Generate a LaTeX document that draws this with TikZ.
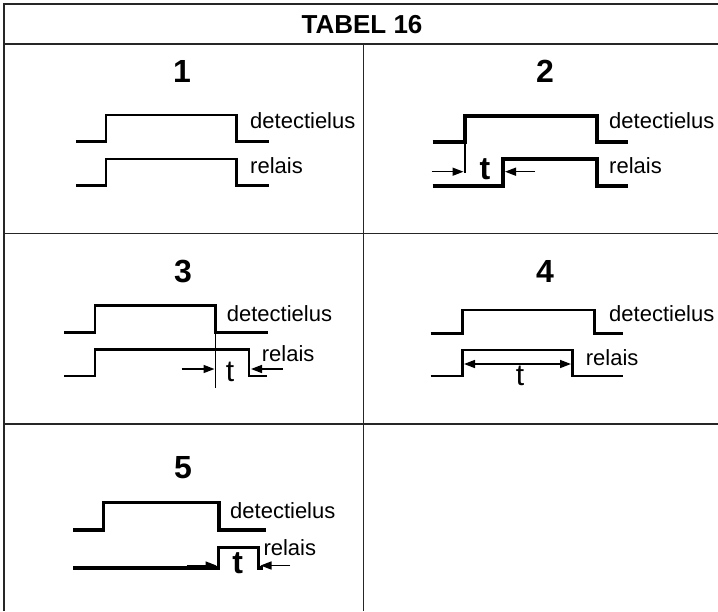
\documentclass[tikz,border=0pt]{standalone}
\usepackage{fontspec}
\setmainfont{Liberation Sans}
\usetikzlibrary{arrows.meta}
\begin{document}
\begin{tikzpicture}[x=1pt,y=-1pt,
  grid/.style={line width=1.4pt, draw=black!85},
  wave/.style={line width=2.8pt},
  heavywave/.style={line width=3.6pt},
  thinline/.style={line width=1.3pt},
  dimarrow/.style={line width=1.5pt, -{Triangle[length=11pt,width=8pt]}},
  dimboth/.style={line width=1.5pt, {Triangle[length=11pt,width=8pt]}-{Triangle[length=11pt,width=8pt]}},
  lbl/.style={font=\fontsize{22}{22}\selectfont, anchor=base west, inner sep=0pt},
  num/.style={font=\bfseries\fontsize{32}{32}\selectfont, anchor=base, inner sep=0pt},
  tbold/.style={font=\bfseries\fontsize{32}{32}\selectfont, anchor=base, inner sep=0pt},
  treg/.style={font=\fontsize{30}{30}\selectfont, anchor=base, inner sep=0pt},
]
\useasboundingbox (0,0) rectangle (718,611);
\fill[white] (0,0) rectangle (718,611);
% table grid
\draw[grid] (4,611) -- (4,4) -- (718,4);
\draw[grid] (4,44) -- (718,44);
\draw[grid] (4,233.5) -- (718,233.5);
\draw[grid] (4,424) -- (718,424);
\draw[grid] (363.5,44) -- (363.5,611);
\node[font=\bfseries\fontsize{26}{26}\selectfont, anchor=base, inner sep=0pt] (title) at (362,33) {TABEL 16};
% numbers
\node[num] (n1) at (182,82) {1};
\node[num] (n2) at (545,82) {2};
\node[num] (n3) at (183,282) {3};
\node[num] (n4) at (545,282) {4};
\node[num] (n5) at (183,478) {5};
% cell 1
\draw[wave] (76,141.7) -- (106,141.7) -- (106,115) -- (236.7,115) -- (236.7,141.7) -- (269,141.7);
\draw[wave] (76,185.7) -- (106,185.7) -- (106,159) -- (236.7,159) -- (236.7,185.7) -- (269,185.7);
\node[lbl] (d1) at (250,128.5) {detectielus};
\node[lbl] (r1) at (250,173.5) {relais};
% cell 2
\draw[heavywave] (432.7,141.7) -- (465,141.7) -- (465,116) -- (596.7,116) -- (596.7,141.7) -- (628,141.7);
\draw[thinline] (465,141.7) -- (465,173);
\draw[heavywave] (432.7,186) -- (502.7,186) -- (502.7,159) -- (596.7,159) -- (596.7,186) -- (628,186);
\coordinate (a2s) at (431.7,171.7); \coordinate (a2e) at (463.5,171.7);
\coordinate (b2s) at (535,171.7); \coordinate (b2e) at (505,171.7);
\draw[dimarrow] (a2s) -- (a2e);
\draw[dimarrow] (b2s) -- (b2e);
\node[tbold] (t2) at (485,179) {t};
\node[lbl] (d2) at (609,128.5) {detectielus};
\node[lbl] (r2) at (609,173.5) {relais};
% cell 3
\draw[wave] (64,332.3) -- (95,332.3) -- (95,305.7) -- (215.7,305.7) -- (215.7,332.3) -- (268.3,332.3);
\draw[thinline] (215.7,332.3) -- (215.7,388);
\draw[wave] (64,376) -- (95,376) -- (95,349.3) -- (249,349.3) -- (249,376) -- (266.7,376);
\coordinate (a3s) at (181.7,369); \coordinate (a3e) at (214.5,369);
\coordinate (b3s) at (283,369); \coordinate (b3e) at (251,369);
\draw[dimarrow] (a3s) -- (a3e);
\draw[dimarrow] (b3s) -- (b3e);
\node[treg] (t3) at (230,381.7) {t};
\node[lbl] (d3) at (226.7,321.7) {detectielus};
\node[lbl] (r3) at (261.7,361.7) {relais};
% cell 4
\draw[wave] (430.7,333.3) -- (462.3,333.3) -- (462.3,310) -- (594.3,310) -- (594.3,333.3) -- (623.3,333.3);
\draw[wave] (430.7,376) -- (462.3,376) -- (462.3,350) -- (572.3,350) -- (572.3,376) -- (623.3,376);
\coordinate (a4s) at (464,364); \coordinate (a4e) at (571,364);
\draw[dimboth] (a4s) -- (a4e);
\node[treg] (t4) at (520,385) {t};
\node[lbl] (d4) at (609,321.7) {detectielus};
\node[lbl] (r4) at (585.7,365) {relais};
% cell 5
\draw[heavywave] (73.3,530) -- (103.3,530) -- (103.3,502.3) -- (219,502.3) -- (219,530) -- (266,530);
\draw[heavywave] (73.3,567.7) -- (218.3,567.7) -- (218.3,547.3) -- (258.3,547.3) -- (258.3,567.7) -- (263,567.7);
\coordinate (a5s) at (186.7,565.5); \coordinate (a5e) at (216.5,565.5);
\coordinate (b5s) at (290,565.5); \coordinate (b5e) at (260.5,565.5);
\draw[dimarrow] (a5s) -- (a5e);
\draw[dimarrow] (b5s) -- (b5e);
\node[tbold] (t5) at (237.7,573) {t};
\node[lbl] (d5) at (230,518.3) {detectielus};
\node[lbl] (r5) at (263.3,555) {relais};
\end{tikzpicture}
\end{document}
